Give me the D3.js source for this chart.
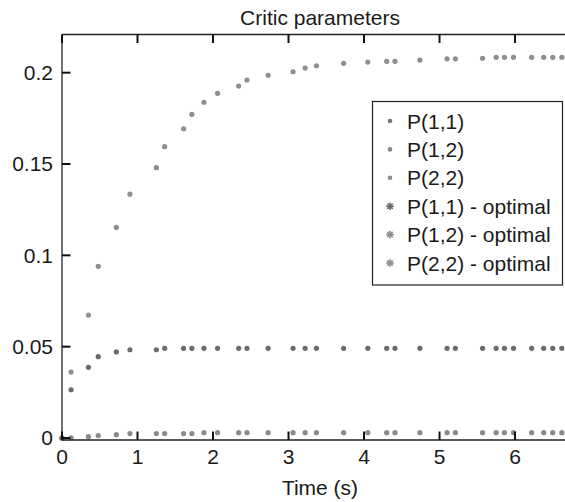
<!DOCTYPE html>
<html><head><meta charset="utf-8">
<script src="https://cdn.jsdelivr.net/npm/d3@7"></script>
<style>body{margin:0;background:#fff}svg{display:block}text{font-family:"Liberation Sans",Arial,Helvetica,sans-serif;fill:#1a1a1a}</style>
</head><body>
<svg id="c" width="565" height="502"></svg>
<script>
const time = [0, 0.12, 0.35, 0.48, 0.72, 0.9, 1.25, 1.36, 1.61, 1.72, 1.88, 2.06, 2.34, 2.45, 2.73, 3.06, 3.22, 3.37, 3.73, 4.05, 4.3, 4.41, 4.74, 5.1, 5.21, 5.57, 5.75, 5.86, 5.98, 6.22, 6.38, 6.5, 6.62];
const p11 = [0, 0.0264, 0.0387, 0.0445, 0.0471, 0.0483, 0.0483, 0.0491, 0.0491, 0.0491, 0.0491, 0.0491, 0.0491, 0.0491, 0.0491, 0.0491, 0.0491, 0.0491, 0.0491, 0.0491, 0.0491, 0.0491, 0.0491, 0.0491, 0.0491, 0.0491, 0.0491, 0.0491, 0.0491, 0.0491, 0.0491, 0.0491, 0.0491];
const p12 = [0, 0.0001, 0.0007, 0.0013, 0.0018, 0.0024, 0.0024, 0.0024, 0.0024, 0.0024, 0.0029, 0.0029, 0.0029, 0.0029, 0.0029, 0.0029, 0.0029, 0.0029, 0.0029, 0.0029, 0.0029, 0.0029, 0.0029, 0.0029, 0.0029, 0.0029, 0.0029, 0.0029, 0.0029, 0.0029, 0.0029, 0.0029, 0.0029];
const p22 = [0, 0.0361, 0.0673, 0.094, 0.1153, 0.1335, 0.148, 0.1595, 0.1693, 0.1772, 0.1838, 0.1887, 0.1927, 0.196, 0.1986, 0.2005, 0.2025, 0.2038, 0.2051, 0.2058, 0.2062, 0.2062, 0.2069, 0.2076, 0.2076, 0.2079, 0.2084, 0.2084, 0.2084, 0.2084, 0.2084, 0.2084, 0.2084];
const xTicks = [0, 1, 2, 3, 4, 5, 6];
const yTicks = [0, 0.05, 0.1, 0.15, 0.2];
const yTickLabels = ["0", "0.05", "0.1", "0.15", "0.2"];
const legendLabels = ["P(1,1)", "P(1,2)", "P(2,2)", "P(1,1) - optimal", "P(1,2) - optimal", "P(2,2) - optimal"];
const seriesColors = ["#6b6b6b", "#8a8a8a", "#8e8e8e"];

const svg = d3.select("#c");
const L = 62, R = 578, T = 34.5, B = 440;
const FS = 21;
const x = d3.scaleLinear().domain([0, 6.834]).range([L, R]);
const y = d3.scaleLinear().domain([-0.0011, 0.2209]).range([B, T]);
const cx = (L + R) / 2;

// title
svg.append("text").attr("x", cx).attr("y", 25).attr("text-anchor", "middle")
  .attr("font-size", FS).text("Critic parameters");

// data points
const series = [p12, p22, p11];
const colIdx = [1, 2, 0];
series.forEach((s, k) => {
  svg.append("g").selectAll("circle").data(time.map((t, i) => [t, s[i]])).join("circle")
    .attr("cx", d => x(d[0])).attr("cy", d => y(d[1])).attr("r", 2.6)
    .attr("fill", seriesColors[colIdx[k]]);
});

// axes box
const ax = svg.append("g");
ax.append("line").attr("x1", L).attr("x2", R).attr("y1", B).attr("y2", B).attr("stroke", "#222").attr("stroke-width", 1.3);
ax.append("line").attr("x1", L).attr("x2", R).attr("y1", T).attr("y2", T).attr("stroke", "#222").attr("stroke-width", 1.3);
ax.append("line").attr("x1", L).attr("x2", L).attr("y1", T).attr("y2", B).attr("stroke", "#222").attr("stroke-width", 1.3);

const tl = 8.5;
xTicks.forEach(t => {
  ax.append("line").attr("x1", x(t)).attr("x2", x(t)).attr("y1", B).attr("y2", B - tl).attr("stroke", "#111").attr("stroke-width", 2);
  ax.append("line").attr("x1", x(t)).attr("x2", x(t)).attr("y1", T).attr("y2", T + tl).attr("stroke", "#111").attr("stroke-width", 2);
  ax.append("text").attr("x", x(t)).attr("y", 464).attr("text-anchor", "middle").attr("font-size", FS).text(t);
});
yTicks.forEach((v, i) => {
  ax.append("line").attr("x1", L).attr("x2", L + tl).attr("y1", y(v)).attr("y2", y(v)).attr("stroke", "#111").attr("stroke-width", 2);
  ax.append("text").attr("x", 53).attr("y", y(v)).attr("dy", "0.35em").attr("text-anchor", "end").attr("font-size", FS).text(yTickLabels[i]);
});
svg.append("text").attr("x", cx).attr("y", 495).attr("text-anchor", "middle").attr("font-size", FS).text("Time (s)");

// legend
const lg = svg.append("g");
lg.append("rect").attr("x", 372.5).attr("y", 101.5).attr("width", 190).attr("height", 183.5)
  .attr("fill", "#fff").attr("stroke", "#222").attr("stroke-width", 1.2);
const legendColors = ["#777", "#8a8a8a", "#8e8e8e", "#6b6b6b", "#8a8a8a", "#8e8e8e"];
legendLabels.forEach((lab, i) => {
  const cy = 121 + i * 28.4;
  if (i < 3) {
    lg.append("circle").attr("cx", 390).attr("cy", cy).attr("r", 2.3).attr("fill", legendColors[i]);
  } else {
    const g = lg.append("g").attr("transform", `translate(390,${cy})`);
    [0, 45, 90, 135].forEach(a => {
      g.append("line").attr("x1", -3.8).attr("x2", 3.8).attr("y1", 0).attr("y2", 0)
        .attr("transform", `rotate(${a})`).attr("stroke", legendColors[i]).attr("stroke-width", 1.6);
    });
  }
  lg.append("text").attr("x", 407).attr("y", cy).attr("dy", "0.36em").attr("font-size", FS).text(lab);
});
</script>
</body></html>
